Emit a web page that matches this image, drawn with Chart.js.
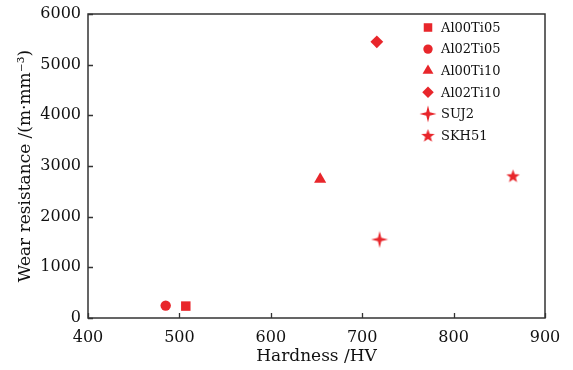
<!DOCTYPE html>
<html>
<head>
<meta charset="utf-8">
<script src="https://cdn.jsdelivr.net/npm/chart.js@4.4.1/dist/chart.umd.min.js"></script>
<style>
  body { margin: 0; background: #fff; }
</style>
</head>
<body>
<canvas id="grafica" width="573" height="370"></canvas>
<script>
// Datos
const muestras = ["Al00Ti05", "Al02Ti05", "Al00Ti10", "Al02Ti10", "SUJ2", "SKH51"];
const dureza = [507, 485, 654, 716, 719, 865];        // Hardness /HV
const desgaste = [235, 245, 2740, 5450, 1550, 2805];  // Wear resistance
const ticksX = [400, 500, 600, 700, 800, 900];
const ticksY = [0, 1000, 2000, 3000, 4000, 5000, 6000];

const rojo = "#e8262b";
const ejes = "#333";
const fuente = "'DejaVu Serif', serif";

// Marcadores hechos a mano (estrella de 4 puntas y estrella de 5 puntas)
function marcador(tam, dibujar) {
  const c = document.createElement("canvas");
  c.width = tam; c.height = tam;
  const g = c.getContext("2d");
  g.fillStyle = rojo;
  dibujar(g, tam / 2);
  return c;
}

const cruz = marcador(18, (g, m) => {
  const L = 8.5, w = 1.7;
  g.beginPath();
  g.moveTo(m, m - L);
  g.lineTo(m + w, m - w);
  g.lineTo(m + L, m);
  g.lineTo(m + w, m + w);
  g.lineTo(m, m + L);
  g.lineTo(m - w, m + w);
  g.lineTo(m - L, m);
  g.lineTo(m - w, m - w);
  g.closePath();
  g.fill();
});

const estrella = marcador(15, (g, m) => {
  const R = 7, r = 2.9;
  g.beginPath();
  for (let i = 0; i < 10; i++) {
    const rad = i % 2 === 0 ? R : r;
    const a = -Math.PI / 2 + i * Math.PI / 5;
    const px = m + rad * Math.cos(a), py = m + 0.6 + rad * Math.sin(a);
    if (i === 0) g.moveTo(px, py); else g.lineTo(px, py);
  }
  g.closePath();
  g.fill();
});

const estilos = ["rect", "circle", "triangle", "rectRot", cruz, estrella];
const radios = [6.7, 5.2, 7, 6.4, 8, 7];

const conjuntos = muestras.map((nombre, i) => ({
  label: nombre,
  data: [{ x: dureza[i], y: desgaste[i] }],
  pointStyle: estilos[i],
  pointRadius: radios[i],
  pointHoverRadius: radios[i],
  backgroundColor: rojo,
  borderColor: rojo,
  borderWidth: 0,
}));

// Marco, marcas hacia dentro y leyenda dentro del área de la gráfica
const marco = {
  id: "marco",
  afterDraw(chart) {
    const { ctx, chartArea: a, scales } = chart;
    ctx.save();
    ctx.strokeStyle = ejes;
    ctx.lineWidth = 1.5;
    ctx.strokeRect(a.left, a.top, a.right - a.left, a.bottom - a.top);

    ctx.lineWidth = 1.3;
    ctx.beginPath();
    ticksX.forEach(v => {
      const x = Math.round(scales.x.getPixelForValue(v)) + 0.5;
      ctx.moveTo(x, a.bottom);
      ctx.lineTo(x, a.bottom - 5);
    });
    ticksY.forEach(v => {
      const y = Math.round(scales.y.getPixelForValue(v)) + 0.5;
      ctx.moveTo(a.left, y);
      ctx.lineTo(a.left + 5, y);
    });
    ctx.stroke();

    ctx.font = "13px " + fuente;
    ctx.textBaseline = "middle";
    ctx.textAlign = "left";
    chart.data.datasets.forEach((ds, i) => {
      const y = 27.5 + i * 21.6;
      ctx.fillStyle = rojo;
      ctx.strokeStyle = rojo;
      Chart.helpers.drawPoint(ctx, {
        pointStyle: ds.pointStyle,
        radius: ds.pointRadius * 0.9,
        rotation: 0,
        borderWidth: 0,
      }, 428, y);
      ctx.fillStyle = "#111";
      ctx.fillText(ds.label, 441, y + 1);
    });
    ctx.restore();
  }
};

// Sin relleno automático: el área de la gráfica queda fija
function sinRelleno(s) {
  s.paddingTop = 0; s.paddingBottom = 0;
  s.paddingLeft = 0; s.paddingRight = 0;
}

new Chart(document.querySelector("#grafica"), {
  type: "scatter",
  data: { datasets: conjuntos },
  plugins: [marco],
  options: {
    responsive: false,
    animation: false,
    layout: { padding: { left: 0, top: 14, right: 28, bottom: 0 } },
    plugins: {
      legend: { display: false },
      tooltip: { enabled: false },
    },
    scales: {
      x: {
        type: "linear",
        min: ticksX[0],
        max: ticksX[ticksX.length - 1],
        afterBuildTicks: s => { s.ticks = ticksX.map(v => ({ value: v })); },
        ticks: { color: "#111", font: { family: fuente, size: 16 }, padding: 10, maxRotation: 0, callback: v => String(v) },
        grid: { display: false, drawTicks: false },
        border: { display: false },
        title: {
          display: true,
          text: "Hardness /HV",
          color: "#111",
          font: { family: fuente, size: 17 },
          padding: { top: 0, bottom: 3 },
        },
        afterFit: s => { s.height = 52; sinRelleno(s); },
      },
      y: {
        type: "linear",
        min: ticksY[0],
        max: ticksY[ticksY.length - 1],
        afterBuildTicks: s => { s.ticks = ticksY.map(v => ({ value: v })); },
        ticks: { color: "#111", font: { family: fuente, size: 16 }, padding: 7, callback: v => String(v) },
        grid: { display: false, drawTicks: false },
        border: { display: false },
        title: {
          display: true,
          text: "Wear resistance /(m\u00b7mm\u207b\u00b3)",
          color: "#111",
          font: { family: fuente, size: 17 },
          padding: { top: 15, bottom: 0 },
        },
        afterFit: s => { s.width = 88; sinRelleno(s); },
      },
    },
  },
});
</script>
</body>
</html>
